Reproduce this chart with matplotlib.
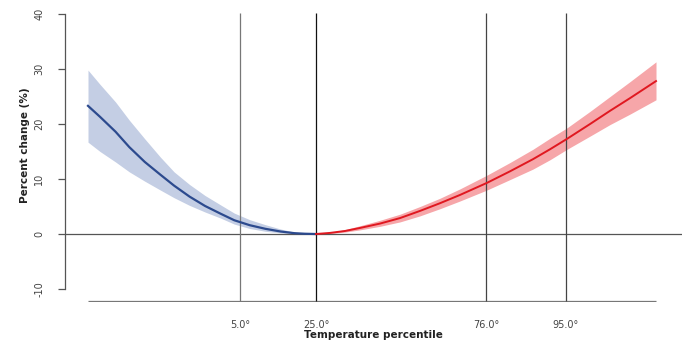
import matplotlib
matplotlib.use("Agg")
import matplotlib.pyplot as plt

# Temperature (deg C) grid and percent change, cold side (blue)
cold_temp = [-2.0, -1.3, -0.4, 0.4, 1.3, 2.2, 3.0, 3.9, 4.8, 5.7, 6.5, 7.4, 8.3, 9.2, 10.0, 10.6, 11.25]
cold_rr = [23.3, 21.3, 18.6, 15.8, 13.1, 10.8, 8.8, 6.8, 5.1, 3.7, 2.5, 1.6, 0.95, 0.45, 0.15, 0.05, 0.0]
cold_lo = [16.7, 15.0, 13.1, 11.3, 9.6, 8.0, 6.6, 5.2, 4.0, 2.9, 1.8, 1.0, 0.5, 0.2, 0.05, 0.0, 0.0]
cold_hi = [29.8, 27.2, 24.0, 20.7, 17.3, 14.0, 11.3, 9.0, 7.0, 5.3, 3.8, 2.6, 1.7, 0.9, 0.35, 0.12, 0.0]

# Hot side (red)
hot_temp = [11.25, 12.06, 12.93, 13.8, 14.97, 16.13, 17.29, 18.45, 19.61, 21.18, 22.52, 23.85, 24.84, 25.83, 27.17, 28.33, 29.49, 31.0]
hot_rr = [0.0, 0.2, 0.55, 1.1, 1.9, 2.9, 4.2, 5.6, 7.1, 9.3, 11.4, 13.6, 15.4, 17.3, 20.0, 22.4, 24.7, 27.8]
hot_lo = [0.0, 0.1, 0.35, 0.75, 1.4, 2.2, 3.3, 4.6, 6.0, 8.0, 9.9, 11.8, 13.5, 15.4, 17.8, 19.9, 21.8, 24.4]
hot_hi = [0.0, 0.3, 0.8, 1.5, 2.5, 3.6, 5.0, 6.5, 8.2, 10.7, 13.0, 15.4, 17.4, 19.3, 22.3, 25.0, 27.7, 31.3]

# Percentile reference lines (temperature positions) and labels
pct_temp = [6.83, 11.25, 21.12, 25.77]
pct_labels = ["5.0°", "25.0°", "76.0°", "95.0°"]
pct_colors = ["#777777", "#111111", "#444444", "#444444"]

y_ticks = [-10, 0, 10, 20, 30, 40]

fig = plt.figure(figsize=(6.87, 3.45), dpi=100)
ax = fig.add_axes([65/687, 1-302/345, (682-65)/687, (302-13)/345])
ax.set_xlim(-3.336, 32.51)
ax.set_ylim(-12.36, 40.18)

ax.fill_between(cold_temp, cold_lo, cold_hi, color="#c4cee4", lw=0, zorder=1)
ax.fill_between(hot_temp, hot_lo, hot_hi, color="#f6a6a9", lw=0, zorder=1)

ax.axhline(0, color="#555555", lw=0.9, zorder=2)
ax.hlines(-12.2, cold_temp[0], hot_temp[-1], color="#777777", lw=0.9, zorder=2)
for t, c in zip(pct_temp, pct_colors):
    ax.vlines(t, -12.2, 40.18, color=c, lw=0.9, zorder=2)

ax.plot(cold_temp, cold_rr, color="#2c4a8e", lw=1.6, zorder=3)
ax.plot(hot_temp, hot_rr, color="#e01820", lw=1.4, zorder=3)

for s in ["top", "right", "bottom"]:
    ax.spines[s].set_visible(False)
ax.spines["left"].set_bounds(-10, 40)
ax.spines["left"].set_color("#555555")
ax.spines["left"].set_linewidth(0.9)

ax.set_yticks(y_ticks)
ax.set_yticklabels([str(v) for v in y_ticks], rotation=90, va="center", fontsize=7, color="#444444")
ax.tick_params(axis="y", length=5, width=0.9, color="#555555", pad=10)

ax.set_xticks(pct_temp)
ax.set_xticklabels(pct_labels, fontsize=7, color="#444444")
ax.tick_params(axis="x", length=0, pad=13)

ax.set_xlabel("Temperature percentile", fontsize=7.5, fontweight="bold", color="#222222", labelpad=0)
fig.text(25/687, 1-145/345, "Percent change (%)", rotation=90, ha="center", va="center",
         fontsize=7.5, fontweight="bold", color="#222222")

fig.savefig("out.png", dpi=100, facecolor="white")
